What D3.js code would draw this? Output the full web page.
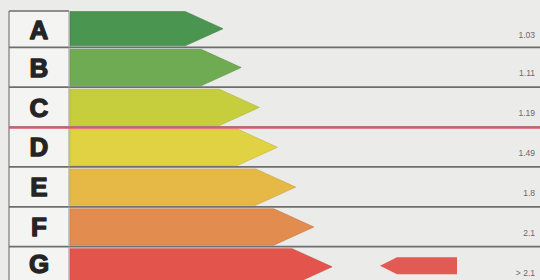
<!DOCTYPE html>
<html>
<head>
<meta charset="utf-8">
<script src="https://cdn.jsdelivr.net/npm/d3@7"></script>
<style>
  body { margin: 0; background: #ebebea; }
  svg { display: block; }
</style>
</head>
<body>
<div id="wrapper"></div>
<script>
// energy classes, best to worst
const classes = ["A", "B", "C", "D", "E", "F", "G"]
const limits = ["1.03", "1.11", "1.19", "1.49", "1.8", "2.1", "> 2.1"]
const classColors = ["#4a9550", "#6eab52", "#c6ce3e", "#e1d244", "#e6b946", "#e28c50", "#e3554c"]
// arrow length grows one step per class
const classRank = [1, 2, 3, 4, 5, 6, 7]
const currentClass = "G"
const limitClass = "D"   // red line drawn above this class

function drawLabel() {
    const dimensions = {
        width: 540,
        height: 280,
        frameTop: 11,
        frameLeft: 9,
        letterWidth: 60,
    }

    const svg = d3.select("#wrapper")
        .append("svg")
        .attr("width", dimensions.width)
        .attr("height", dimensions.height)

    svg.append("rect")
        .attr("width", dimensions.width)
        .attr("height", dimensions.height)
        .attr("fill", "#ebebea")

    const yScaler = d3.scaleBand()
        .domain(classes)
        .range([7.5, 286.5])

    const xScaler = d3.scaleLinear()
        .domain([1, 7])
        .range([223, 332])

    const bodyStart = dimensions.frameLeft + dimensions.letterWidth + 1
    const rowTop = c => Math.max(yScaler(c), dimensions.frameTop)
    const rowBottom = c => yScaler(c) + yScaler.bandwidth()
    // centre of the part of the row that is inside the picture
    const visibleMid = c => (rowTop(c) + Math.min(rowBottom(c), dimensions.height)) / 2

    const rows = classes.map((c, i) => ({
        cls: c, limit: limits[i], color: classColors[i], rank: classRank[i]
    }))

    // letter cells
    svg.append("g").selectAll("rect")
        .data(rows)
        .join("rect")
        .attr("x", dimensions.frameLeft)
        .attr("y", d => rowTop(d.cls))
        .attr("width", dimensions.letterWidth)
        .attr("height", d => rowBottom(d.cls) - rowTop(d.cls))
        .attr("fill", "#f4f4f3")

    // class arrows
    svg.append("g").selectAll("path")
        .data(rows)
        .join("path")
        .attr("d", d => {
            const top = rowTop(d.cls) + (d.cls === "A" ? 0.5 : 2)
            const bottom = rowBottom(d.cls) - 1.5
            const mid = (top + bottom) / 2
            const tip = xScaler(d.rank)
            const shoulder = tip - (bottom - top) * 1.1
            return `M${bodyStart},${top} L${shoulder},${top} L${tip},${mid} L${shoulder},${bottom} L${bodyStart},${bottom} Z`
        })
        .attr("fill", d => d.color)
        .attr("stroke", d => d3.color(d.color).darker(0.4))
        .attr("stroke-width", 0.6)

    // row separators
    svg.append("g").selectAll("line")
        .data(classes.slice(1))
        .join("line")
        .attr("x1", dimensions.frameLeft)
        .attr("x2", dimensions.width)
        .attr("y1", d => yScaler(d))
        .attr("y2", d => yScaler(d))
        .attr("stroke", "#6e6e6e")
        .attr("stroke-width", 1.8)

    // frame lines
    svg.append("line")
        .attr("x1", dimensions.frameLeft)
        .attr("x2", dimensions.frameLeft + dimensions.letterWidth)
        .attr("y1", dimensions.frameTop)
        .attr("y2", dimensions.frameTop)
        .attr("stroke", "#6e6e6e")
        .attr("stroke-width", 1.5)
    svg.append("line")
        .attr("x1", dimensions.frameLeft)
        .attr("x2", dimensions.frameLeft)
        .attr("y1", dimensions.frameTop)
        .attr("y2", dimensions.height)
        .attr("stroke", "#7a7a7a")
        .attr("stroke-width", 1.2)
    svg.append("line")
        .attr("x1", dimensions.frameLeft + dimensions.letterWidth)
        .attr("x2", dimensions.frameLeft + dimensions.letterWidth)
        .attr("y1", dimensions.frameTop)
        .attr("y2", dimensions.height)
        .attr("stroke", "#9a9a9a")
        .attr("stroke-width", 1)

    // limit line
    svg.append("line")
        .attr("x1", dimensions.frameLeft)
        .attr("x2", dimensions.width)
        .attr("y1", yScaler(limitClass) + 0.5)
        .attr("y2", yScaler(limitClass) + 0.5)
        .attr("stroke", "#e0566a")
        .attr("stroke-width", 2.2)

    // letters
    svg.append("g").selectAll("text")
        .data(rows)
        .join("text")
        .attr("x", dimensions.frameLeft + dimensions.letterWidth / 2)
        .attr("y", d => visibleMid(d.cls))
        .attr("dy", "0.36em")
        .attr("text-anchor", "middle")
        .attr("font-family", "Liberation Sans, Arial, sans-serif")
        .attr("font-weight", "bold")
        .attr("font-size", "26px")
        .attr("fill", "#242424")
        .attr("stroke", "#242424")
        .attr("stroke-width", 1.3)
        .attr("stroke-linejoin", "round")
        .text(d => d.cls)

    // limit values
    svg.append("g").selectAll("text")
        .data(rows)
        .join("text")
        .attr("x", 535)
        .attr("y", d => (rowTop(d.cls) + rowBottom(d.cls)) / 2 + 9)
        .attr("text-anchor", "end")
        .attr("font-family", "Liberation Sans, Arial, sans-serif")
        .attr("font-size", "8.5px")
        .attr("fill", "#6a6a6a")
        .text(d => d.limit)

    // current class marker
    const markTop = yScaler(currentClass) + 10.5
    const markBottom = markTop + 17
    const markMid = (markTop + markBottom) / 2
    const markTip = 380
    svg.append("path")
        .attr("d", `M${markTip},${markMid} L${markTip + 17},${markTop} L457,${markTop} L457,${markBottom} L${markTip + 17},${markBottom} Z`)
        .attr("fill", "#e15a54")
}

drawLabel()
</script>
</body>
</html>
